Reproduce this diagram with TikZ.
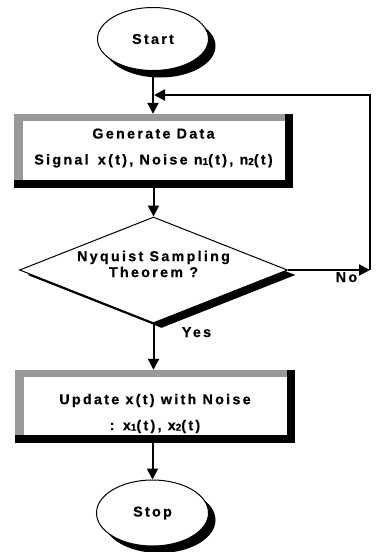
\documentclass[tikz,border=0pt]{standalone}
\usepackage{fontspec}
\setmainfont{Liberation Sans}[LetterSpace=16, BoldFeatures={FakeBold=0.6}]
\usetikzlibrary{arrows.meta,shapes.geometric,shadows,calc}
\newcommand{\smalldig}[1]{\raisebox{-0.5pt}{\fontsize{10}{10}\selectfont #1}}
\begin{document}
\begin{tikzpicture}[x=1pt,y=-1pt,
  every node/.style={font=\bfseries\fontsize{14.3}{16}\selectfont, text=black},
  conn/.style={line width=2pt, draw=black},
  tip/.style={-{Triangle[length=11pt,width=11pt]}},
  term/.style={ellipse, draw=black, line width=1pt, fill=white,
    minimum width=111pt, minimum height=63pt, inner sep=0pt,
    drop shadow={shadow xshift=7pt, shadow yshift=-7pt, fill=black, opacity=1}},
  decision/.style={diamond, draw=black, line width=1pt, fill=white,
    minimum width=268pt, minimum height=106pt, inner sep=0pt,
    drop shadow={shadow xshift=8pt, shadow yshift=-5pt, fill=black, opacity=1}},
  boxarea/.style={rectangle, inner sep=0pt, minimum width=279pt, minimum height=74pt},
  boxtext/.style={align=center, inner sep=0pt},
  bordergray/.style={fill=black!40},
  lbl/.style={anchor=base, inner sep=0pt}
]
\useasboundingbox (0,0) rectangle (377,552);

% Start
\node[term] (start) at (153,39) {Start};

% Generate box
\node[boxarea] (gen) at (153.5,151) {};
\fill[black] (gen.north west) rectangle (gen.south east);
\fill[bordergray] (gen.north west) rectangle ($(gen.south east)+(-8,-8)$);
\fill[white] ($(gen.north west)+(9,7)$) rectangle ($(gen.south east)+(-8,-8)$);
\node[boxtext] (gentext) at ($(gen.center)+(0,-3)$)
  {Generate Data\\[10pt]Signal\hspace{3pt} x(t), Noise n\smalldig{1}(t), n\smalldig{2}(t)};

% Decision
\node[decision] (dec) at (153.5,270) {};
\node[boxtext] (dectext) at ($(dec.center)+(0,-6)$) {Nyquist Sampling\\Theorem ?};

% Update box
\node[boxarea, minimum width=280pt, minimum height=73pt] (upd) at (155,406.5) {};
\fill[black] (upd.north west) rectangle (upd.south east);
\fill[bordergray] (upd.north west) rectangle ($(upd.south east)+(-8,-8)$);
\fill[white] ($(upd.north west)+(9,7)$) rectangle ($(upd.south east)+(-8,-8)$);
\node[boxtext] (updtext) at ($(upd.center)+(0,7)$)
  {Update x(t) with Noise\\[10pt]: x\smalldig{1}(t), x\smalldig{2}(t)};

% Stop
\node[term, minimum width=112pt, minimum height=66pt] (stop) at (152.5,513) {Stop};

% Feedback coordinates
\coordinate (fbA) at (370,270);
\coordinate (fbB) at (370,95);
\coordinate (fbC) at (154,95);

% Connectors
\draw[conn,tip] (start.south) -- (start.south |- gen.north);
\draw[conn,tip] (gen.south) -- (dec.north);
\draw[conn,tip] (dec.south) -- (dec.south |- upd.north);
\draw[conn,tip] (stop.north |- upd.south) -- (stop.north);
\draw[conn,tip] (dec.east) -- (fbA);
\draw[conn,tip] (fbA) -- (fbB) -- (fbC);

% Labels
\node[lbl] (no) at (346.5,282) {No};
\node[lbl] (yes) at (196.5,337) {Yes};
\end{tikzpicture}
\end{document}
